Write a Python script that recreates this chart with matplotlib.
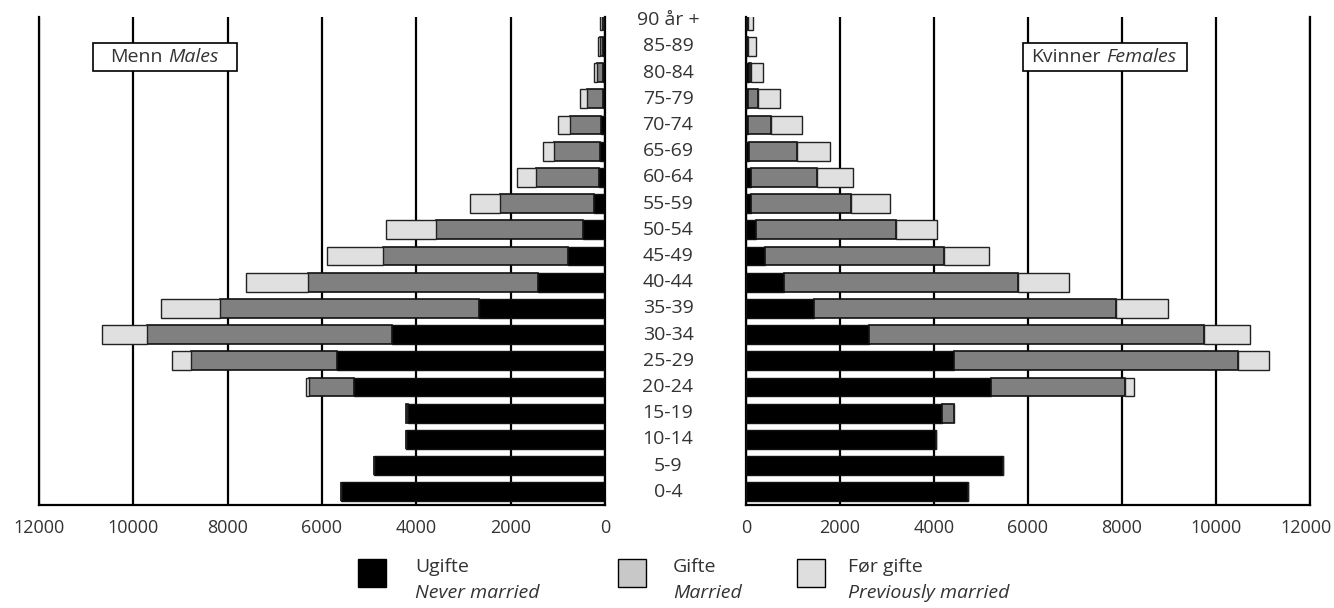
import matplotlib
matplotlib.use("Agg")
import matplotlib.pyplot as plt
from matplotlib.patches import Rectangle
from matplotlib.transforms import blended_transform_factory
import numpy as np

plt.rcParams['font.family'] = ['Open Sans', 'DejaVu Sans']

# Age groups, youngest first
ages = ["0-4", "5-9", "10-14", "15-19", "20-24", "25-29", "30-34", "35-39",
        "40-44", "45-49", "50-54", "55-59", "60-64", "65-69", "70-74",
        "75-79", "80-84", "85-89", "90 år +"]

# Males (Menn)
men_never = [5600, 4900, 4220, 4180, 5330, 5690, 4510, 2670, 1420, 780,
             470, 235, 127, 99, 84, 49, 49, 35, 30]
men_married = [0, 0, 0, 30, 950, 3090, 5190, 5500, 4870, 3930,
               3120, 1990, 1345, 985, 660, 340, 125, 70, 30]
men_prev = [0, 0, 0, 0, 60, 400, 965, 1235, 1315, 1180,
            1050, 640, 400, 232, 246, 141, 60, 50, 40]

# Females (Kvinner)
women_never = [4713, 5462, 4038, 4174, 5213, 4426, 2619, 1440, 813, 400,
               210, 111, 100, 71, 50, 50, 60, 20, 15]
women_married = [0, 0, 0, 250, 2848, 6047, 7129, 6435, 4983, 3812,
                 2971, 2129, 1414, 1011, 491, 214, 50, 30, 25]
women_prev = [0, 0, 0, 0, 195, 660, 981, 1097, 1072, 957,
              890, 817, 760, 712, 648, 463, 260, 170, 115]

xticks = [0, 2000, 4000, 6000, 8000, 10000, 12000]

W, H = 1334, 608
fig = plt.figure(figsize=(W / 100, H / 100), dpi=100)


def fx(x):
    return x / W


def fy(y):
    return 1 - y / H


C_NEVER = "#000000"
C_MAR = "#808080"
C_PREV = "#e0e0e0"
TXT = "#333333"
FS = 14
TFS = 13

ax_l = fig.add_axes([fx(39), fy(505), fx(605) - fx(39), fy(17) - fy(505)])
ax_r = fig.add_axes([fx(746), fy(505), fx(1310) - fx(746), fy(17) - fy(505)])

y = np.arange(len(ages))
bh = 0.72


def draw(ax, nev, mar, prev, last_label=True):
    nev = np.array(nev, float)
    mar = np.array(mar, float)
    prev = np.array(prev, float)
    ax.barh(y, nev, height=bh, color=C_NEVER, edgecolor="#111111",
            linewidth=1.0, zorder=3)
    ax.barh(y, mar, left=nev, height=bh, color=C_MAR, edgecolor="#111111",
            linewidth=1.2, zorder=3)
    ax.barh(y, prev, left=nev + mar, height=bh, color=C_PREV,
            edgecolor="#222222", linewidth=1.0, zorder=3)
    ax.set_ylim(-0.5, 18.12)
    ax.set_yticks([])
    ax.set_xticks(xticks)
    labels = [str(t) for t in xticks]
    if not last_label:
        labels[-1] = ""
    ax.set_xticklabels(labels, fontsize=TFS, color=TXT)
    ax.tick_params(axis="x", length=0, pad=10)
    for t in xticks:
        ax.axvline(t, color="black", lw=1.6, zorder=1)
    ax.spines["top"].set_visible(False)
    for s in ["left", "right", "bottom"]:
        ax.spines[s].set_linewidth(1.6)
        ax.spines[s].set_color("black")


draw(ax_l, men_never, men_married, men_prev)
ax_l.set_xlim(12000, 0)
draw(ax_r, women_never, women_married, women_prev, last_label=False)
ax_r.set_xlim(0, 12000)
# last right-hand tick label kept inside the canvas, aligned with the others
fig.canvas.draw()
ref_lab = ax_r.get_xticklabels()[0]
fig.text(fx(1332), 0, str(xticks[-1]), ha="right",
         va=ref_lab.get_va(), fontsize=TFS, color=TXT,
         transform=blended_transform_factory(fig.transFigure,
                                             ref_lab.get_transform()))
fig.texts[-1].set_y(ref_lab.get_position()[1])

# Age labels in the middle
tr = blended_transform_factory(fig.transFigure, ax_l.transData)
for i, a in enumerate(ages):
    fig.text(fx(668), i, a, transform=tr, ha="center", va="center",
             fontsize=FS, color=TXT)


# Title boxes
def label_box(x0, x1, y0, y1, normal, italic, tx):
    fig.patches.append(Rectangle((fx(x0), fy(y1)), fx(x1) - fx(x0),
                                 fy(y0) - fy(y1), transform=fig.transFigure,
                                 facecolor="white", edgecolor="black",
                                 lw=1.2, zorder=5))
    t1 = fig.text(fx(tx), fy((y0 + y1) / 2), normal, ha="left",
                  va="center", fontsize=FS, color=TXT, zorder=6)
    fig.canvas.draw()
    fig.add_artist(plt.Annotation(italic, xy=(1, 0), xycoords=t1,
                                  xytext=(4, 0), textcoords="offset points",
                                  va="bottom", ha="left", fontsize=FS,
                                  style="italic", color=TXT, zorder=6))


label_box(93, 237, 43, 71, "Menn", "Males", 110)
label_box(1023, 1187, 43, 71, "Kvinner", "Females", 1031)

# Legend
legend_items = [
    (358, "#000000", "Ugifte", "Never married", 415),
    (618, "#c8c8c8", "Gifte", "Married", 673),
    (797, "#dedede", "Før gifte", "Previously married", 848),
]
for sx, col, l1, l2, tx in legend_items:
    fig.patches.append(Rectangle((fx(sx), fy(587)), fx(sx + 28) - fx(sx),
                                 fy(559) - fy(587), transform=fig.transFigure,
                                 facecolor=col, edgecolor="black", lw=1.0))
    fig.text(fx(tx), fy(567), l1, ha="left", va="center", fontsize=FS,
             color=TXT)
    fig.text(fx(tx), fy(593), l2, ha="left", va="center", fontsize=FS,
             color=TXT, style="italic")

fig.savefig("out.png", dpi=100)
